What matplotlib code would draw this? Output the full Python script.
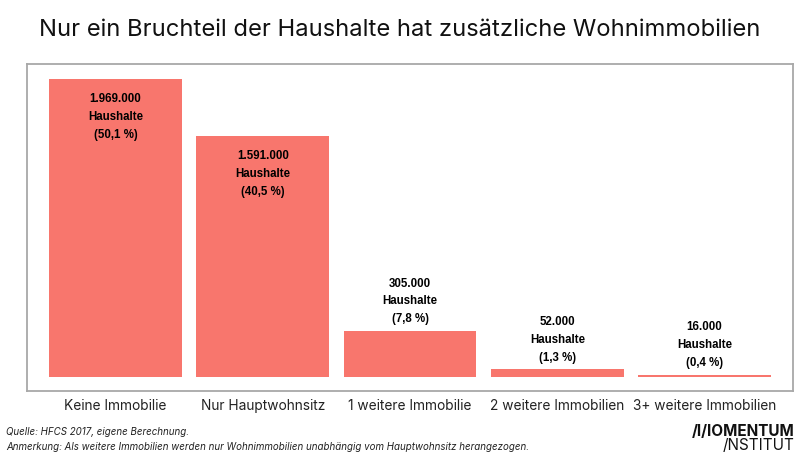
import matplotlib.pyplot as plt
from matplotlib import font_manager
import numpy as np

categories = ["Keine Immobilie", "Nur Hauptwohnsitz", "1 weitere Immobilie",
              "2 weitere Immobilien", "3+ weitere Immobilien"]
households = [1969000, 1591000, 305000, 52000, 16000]
shares = [50.1, 40.5, 7.8, 1.3, 0.4]

title = "Nur ein Bruchteil der Haushalte hat zusätzliche Wohnimmobilien"
source = "Quelle: HFCS 2017, eigene Berechnung."
note = "Anmerkung: Als weitere Immobilien werden nur Wohnimmobilien unabhängig vom Hauptwohnsitz herangezogen."

bar_color = "#F8766D"


def fmt_num(v):
    return f"{v:,}".replace(",", ".")


def fmt_pct(p):
    return f"({p:.1f} %)".replace(".", ",")


# Arial-like bold for the value labels (avoid the Narrow cut)
label_font = font_manager.FontProperties(family="DejaVu Sans", weight="bold")
for f in font_manager.fontManager.ttflist:
    if (f.name == "Liberation Sans" and "narrow" not in f.fname.lower()
            and f.weight in (700, "bold") and f.style == "normal"):
        label_font = font_manager.FontProperties(fname=f.fname)
        break
label_font.set_size(8.3)

fig = plt.figure(figsize=(8, 4.57), dpi=100)
ax = fig.add_axes([27 / 800, 66 / 457, 766 / 800, 327 / 457])

x = np.arange(len(categories))
ax.bar(x, households, width=0.9, color=bar_color)
ax.set_xlim(-0.6, len(categories) - 0.4)
ax.set_ylim(-92000, 2068000)

ax.set_xticks(x)
ax.set_xticklabels(categories, fontsize=9.9, family="Inter", color="#222222")
ax.tick_params(axis="x", length=0, pad=6)
ax.set_yticks([])
for s in ax.spines.values():
    s.set_color("#a8a8a8")
    s.set_linewidth(1.3)

for xi, v, p in zip(x, households, shares):
    lbl = f"{fmt_num(v)}\nHaushalte\n{fmt_pct(p)}"
    inside = v > 1000000
    ax.annotate(lbl, (xi, v), xytext=(0, -10 if inside else 4),
                textcoords="offset points", ha="center",
                va="top" if inside else "bottom",
                fontproperties=label_font, linespacing=1.65)

fig.text(0.5, 1 - 30 / 457, title, ha="center", va="center", fontsize=17.1,
         family="Inter", color="#111111")

fig.text(6 / 800, 1 - 432 / 457, source, ha="left", va="center", fontsize=7.0,
         style="italic", family="Inter", color="#222222")
fig.text(6 / 800, 1 - 447 / 457, note, ha="left", va="center", fontsize=7.0,
         style="italic", family="Inter", color="#222222")

fig.text(795 / 800, 1 - 431 / 457, "/I/IOMENTUM", ha="right", va="center",
         fontsize=11, fontweight="bold", family="Inter", color="#111111")
fig.text(795 / 800, 1 - 445 / 457, "/NSTITUT", ha="right", va="center",
         fontsize=11, family="Inter", color="#111111")

fig.savefig("out.png", dpi=100)
